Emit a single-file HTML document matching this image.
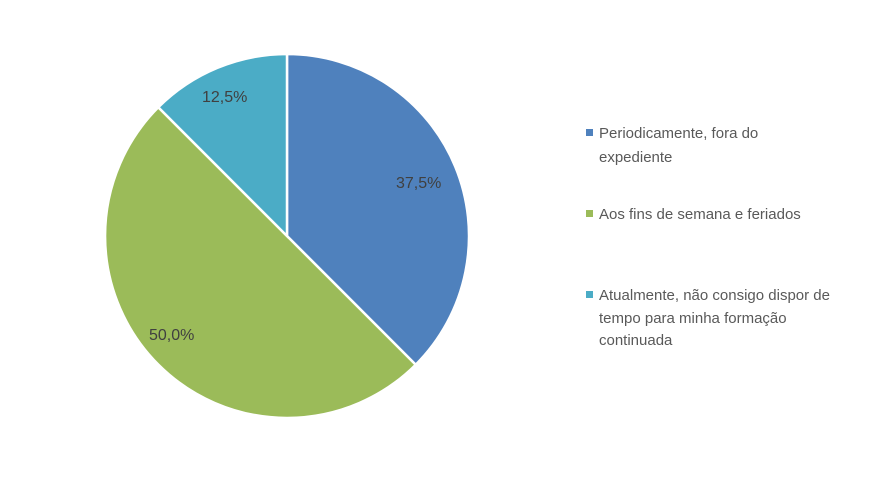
<!DOCTYPE html>
<html><head><style>
body{margin:0;background:#fff;width:886px;height:472px;overflow:hidden;font-family:"Liberation Sans",sans-serif;}
</style></head><body>
<svg width="886" height="472" viewBox="0 0 886 472" xmlns="http://www.w3.org/2000/svg">
<g stroke="#fff" stroke-width="2.5">
<path d="M287,236 L287,54 A182,182 0 0 1 415.7,364.7 Z" fill="#4F81BD"/>
<path d="M287,236 L415.7,364.7 A182,182 0 0 1 158.3,107.3 Z" fill="#9BBB59"/>
<path d="M287,236 L158.3,107.3 A182,182 0 0 1 287,54 Z" fill="#4BACC6"/>
</g>
<g font-size="16" fill="#404040" font-family="Liberation Sans, sans-serif">
<text x="396" y="188">37,5%</text>
<text x="149" y="340">50,0%</text>
<text x="202" y="102">12,5%</text>
</g>
<g font-size="15" fill="#595959" font-family="Liberation Sans, sans-serif">
<rect x="586" y="129" width="7" height="7" fill="#4F81BD"/>
<text x="599" y="138">Periodicamente, fora do</text>
<text x="599" y="162">expediente</text>
<rect x="586" y="210" width="7" height="7" fill="#9BBB59"/>
<text x="599" y="219">Aos fins de semana e feriados</text>
<rect x="586" y="291" width="7" height="7" fill="#4BACC6"/>
<text x="599" y="300">Atualmente, não consigo dispor de</text>
<text x="599" y="323">tempo para minha formação</text>
<text x="599" y="345">continuada</text>
</g>
</svg>
</body></html>
